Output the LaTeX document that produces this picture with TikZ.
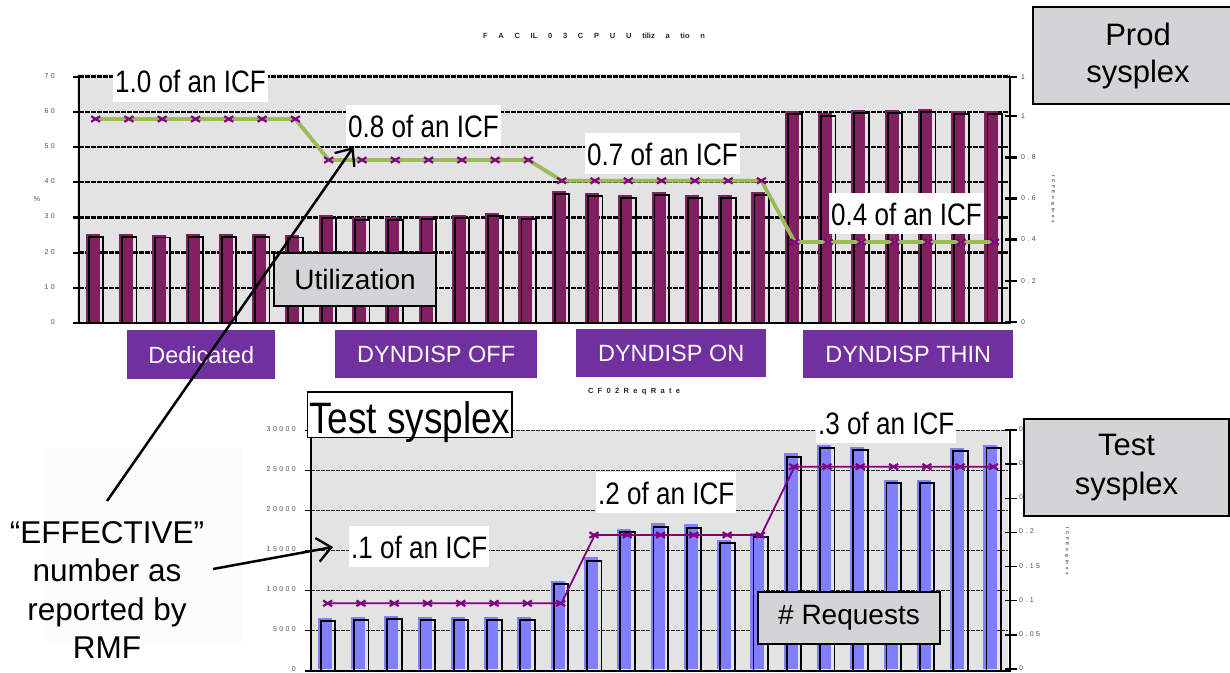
\documentclass[tikz,border=0pt]{standalone}
\usepackage{fontspec}
\setmainfont{Liberation Sans}
\newfontfamily\narrowf[FakeStretch=0.84]{Liberation Sans}
\usetikzlibrary{arrows.meta}
\definecolor{plotbg}{RGB}{227,227,227}
\definecolor{barpur}{RGB}{128,32,96}
\definecolor{barblue}{RGB}{128,128,255}
\definecolor{catpur}{RGB}{112,48,160}
\definecolor{lgreen}{RGB}{155,187,89}
\definecolor{mkpur}{RGB}{128,0,128}
\definecolor{boxgray}{RGB}{211,212,214}
\definecolor{axlbl}{RGB}{80,80,80}
\definecolor{faint}{RGB}{252,252,252}
\newcommand\gp{\hspace{2.4pt}}
\newcommand\mkx[2]{\draw[mkline] (#1-4.5,#2-2.8) -- (#1+4.5,#2+2.8) (#1-4.5,#2+2.8) -- (#1+4.5,#2-2.8);}
\begin{document}
\begin{tikzpicture}[x=1pt,y=-1pt,
  gridln/.style={line width=2.3pt, dash pattern=on 5pt off 1pt},
  gridlnb/.style={line width=1.3pt, black!85, dash pattern=on 4pt off 1pt},
  axisln/.style={line width=2.2pt},
  ticklbl/.style={font=\fontsize{7}{8}\selectfont, text=axlbl, inner sep=0pt},
  tinyttl/.style={font=\bfseries\fontsize{7.5}{8}\selectfont, text=black!85, inner sep=0pt},
  icflbl/.style={fill=white, font=\narrowf\fontsize{31}{31}\selectfont, text height=32pt, text depth=9pt, inner xsep=2pt, inner ysep=0pt, anchor=base west},
  graybox/.style={draw=black, line width=2pt, fill=boxgray, inner sep=0pt, anchor=north west, align=center},
  catbox/.style={fill=catpur, text=white, font=\fontsize{23.5}{24}\selectfont, inner sep=0pt, anchor=north west},
  mkline/.style={mkpur, line width=2.2pt},
  conn/.style={line width=2.5pt, -{Straight Barb[length=14pt,width=24pt,line width=2.3pt]}}
]
\useasboundingbox (0,0) rectangle (1230,672);
\fill[white] (0,0) rectangle (1230,672);

% faint panel behind the left text
\fill[faint] (47,448) rectangle (243,645);

% ================= TOP CHART =================
\node[tinyttl] (ttl1) at (594,36) {\makebox[222pt][s]{F A C IL 0 3 C P U U tiliz a tio n}};
\fill[plotbg] (77,74) rectangle (1010,323);
\foreach \k in {1,...,7}{
  \draw[gridln] (79,323-35.2*\k) -- (1010,323-35.2*\k);
  \draw[axisln] (73,323-35.2*\k) -- (79,323-35.2*\k);
}
\foreach \v [count=\i from 0] in {234.3,234.3,234.5,234.3,234.3,234.3,234.5,215.3,217.3,217.3,216,215,212.7,216,191,193,195,192,195,195,192,111,112.7,110,110,109,111.3,111.3}{
  \pgfmathsetmacro\c{79+33.29*(\i+0.5)}
  \fill[barpur] (\c-10,\v) rectangle (\c+4,321.5);
  \draw[line width=1.8pt] (\c-7,323) -- (\c-7,\v+3) -- (\c+7.5,\v+3) -- (\c+7.5,323);
}
\draw[axisln] (79,75) -- (79,324);
\draw[axisln] (73,323) -- (1010,323);
\draw[axisln] (1010,76) -- (1010,324);
\foreach \yy in {77,116,157.5,198.5,239.5,281,322}{
  \draw[axisln] (1005,\yy) -- (1017,\yy);
}
% left axis labels
\foreach \t [count=\k from 0] in {0,1\gp0,2\gp0,3\gp0,4\gp0,5\gp0,6\gp0,7\gp0}{
  \node[ticklbl, anchor=east] (tl\k) at (55,322-35.2*\k) {\t};
}
\node[ticklbl] (pct) at (37,199) {\%};
% right axis labels
\node[ticklbl, anchor=west] (tr0) at (1021,322) {0};
\node[ticklbl, anchor=west] (tr1) at (1021,281) {0\gp.\gp2};
\node[ticklbl, anchor=west] (tr2) at (1021,239.5) {0\gp.\gp4};
\node[ticklbl, anchor=west] (tr3) at (1021,198.5) {0\gp.\gp6};
\node[ticklbl, anchor=west] (tr4) at (1021,157.5) {0\gp.\gp8};
\node[ticklbl, anchor=west] (tr5) at (1021,116) {1};
\node[ticklbl, anchor=west] (tr6) at (1021,77) {1};
\node[ticklbl, rotate=-90, font=\bfseries\fontsize{4.5}{5}\selectfont] (rtt1) at (1053,199) {\makebox[48pt][s]{I C F  E n g in e s}};
% line series
\draw[lgreen, line width=3.8pt, line join=round] (95.65,119) -- (295.4,119) -- (328.7,160) -- (528.4,160) -- (561.7,180.7) -- (761.4,180.7) -- (794.7,242) -- (994.4,242);
\foreach \i in {0,...,27}{
  \pgfmathsetmacro\c{79+33.29*(\i+0.5)}
  \pgfmathsetmacro\yy{\i<7 ? 119 : (\i<14 ? 160 : (\i<21 ? 180.7 : 242))}
  \mkx{\c}{\yy}
}
% ICF labels
\node[icflbl] (lab10) at (113,92.7) {1.0 of an ICF};
\node[icflbl] (lab08) at (346,137) {0.8 of an ICF};
\node[icflbl] (lab07) at (585,165.3) {0.7 of an ICF};
\node[icflbl] (lab04) at (829,225.3) {0.4 of an ICF};
% category boxes
\node[catbox, minimum width=148pt, minimum height=49pt] (ded) at (127,330) {Dedicated};
\node[catbox, minimum width=202pt, minimum height=48pt] (off) at (335,330) {DYNDISP OFF};
\node[catbox, minimum width=190pt, minimum height=48pt] (on) at (576,329) {DYNDISP ON};
\node[catbox, minimum width=210pt, minimum height=48pt] (thin) at (803,330) {DYNDISP THIN};

% ================= BOTTOM CHART =================
\node[tinyttl] (ttl2) at (634,392) {\makebox[92pt][s]{C F 0 2 R e q R a t e}};
\fill[plotbg] (311,430) rectangle (1008,672);
\foreach \k in {1,...,6}{
  \draw[gridlnb] (311,670.7-40*\k) -- (1008,670.7-40*\k);
  \draw[line width=1.5pt] (305,670.7-40*\k) -- (311,670.7-40*\k);
}
\foreach \v [count=\i from 0] in {618,616.7,615.7,616.7,616.7,616.7,616.7,581,557.3,529,523.3,524.3,540,533.3,453.3,445,446.7,480,480,448,445}{
  \pgfmathsetmacro\c{311+33.29*(\i+0.5)}
  \fill[barblue] (\c-10,\v) rectangle (\c+4,669);
  \draw[line width=1.8pt] (\c-7,671) -- (\c-7,\v+3.3) -- (\c+7.5,\v+3.3) -- (\c+7.5,671);
}
\draw[axisln] (311,430) -- (311,672);
\draw[axisln] (305,671) -- (1010,671);
\draw[axisln] (1010,430) -- (1010,672);
\foreach \k in {0,...,7}{
  \draw[line width=1.5pt] (1005,669-34.14*\k) -- (1017,669-34.14*\k);
}
\foreach \t [count=\k from 0] in {0,5\gp0\gp0\gp0,1\gp0\gp0\gp0\gp0,1\gp5\gp0\gp0\gp0,2\gp0\gp0\gp0\gp0,2\gp5\gp0\gp0\gp0,3\gp0\gp0\gp0\gp0}{
  \node[ticklbl, anchor=east] (bl\k) at (296,669.5-40*\k) {\t};
}
\foreach \t [count=\k from 0] in {0,0\gp.\gp0\gp5,0\gp.\gp1,0\gp.\gp1\gp5,0\gp.\gp2,0\gp.\gp2\gp5,0\gp.\gp3,0\gp.\gp3\gp5}{
  \node[ticklbl, anchor=west] (br\k) at (1019,668-34.14*\k) {\t};
}
\node[ticklbl, rotate=-90, font=\bfseries\fontsize{4.5}{5}\selectfont] (rtt2) at (1067,551) {\makebox[48pt][s]{I C F  E n g in e s}};
% line series
\draw[mkpur, line width=1.8pt, line join=round] (327.6,603.3) -- (561.4,603.3) -- (594.7,535) -- (761.2,535) -- (794.5,466.7) -- (994.3,466.7);
\foreach \i in {0,...,20}{
  \pgfmathsetmacro\c{311+33.29*(\i+0.5)}
  \pgfmathsetmacro\yy{\i<8 ? 603.3 : (\i<14 ? 535 : 466.7)}
  \mkx{\c}{\yy}
}
% labels
\node[icflbl] (lab01) at (349,558.3) {.1 of an ICF};
\node[icflbl] (lab02) at (596,504.3) {.2 of an ICF};
\node[icflbl] (lab03) at (816,434) {.3 of an ICF};
\node[draw, line width=1.3pt, fill=white, font=\narrowf\fontsize{44}{44}\selectfont, text height=41.3pt, text depth=4pt, inner xsep=1.5pt, inner ysep=0pt, anchor=base west] (testlbl) at (307,433.3) {Test sysplex};

% ================= GRAY BOXES =================
\node[graybox, minimum width=162pt, minimum height=53pt, font=\fontsize{28}{30}\selectfont] (util) at (273,252) {Utilization};
\node[graybox, minimum width=182pt, minimum height=52pt, font=\fontsize{28}{30}\selectfont] (req) at (757,591) {\# Requests};
\node[graybox, minimum width=210pt, minimum height=97pt, font=\fontsize{31}{37}\selectfont] (prod) at (1032,6) {Prod\\sysplex};
\node[graybox, minimum width=205pt, minimum height=97pt, font=\fontsize{31}{38.5}\selectfont] (testR) at (1023,418) {Test\\sysplex};

% ================= LEFT TEXT AND ARROWS =================
\node[align=center, font=\fontsize{31.5}{38.3}\selectfont, inner sep=0pt] (eff) at (107,590) {“EFFECTIVE”\\number as\\reported by\\RMF};
\coordinate (effA) at (107,501);
\coordinate (tip08) at (353.5,147);
\coordinate (effB) at (213,569);
\coordinate (tip01) at (333,547);
\draw[conn] (effA) -- (tip08);
\draw[conn] (effB) -- (tip01);
\end{tikzpicture}
\end{document}
